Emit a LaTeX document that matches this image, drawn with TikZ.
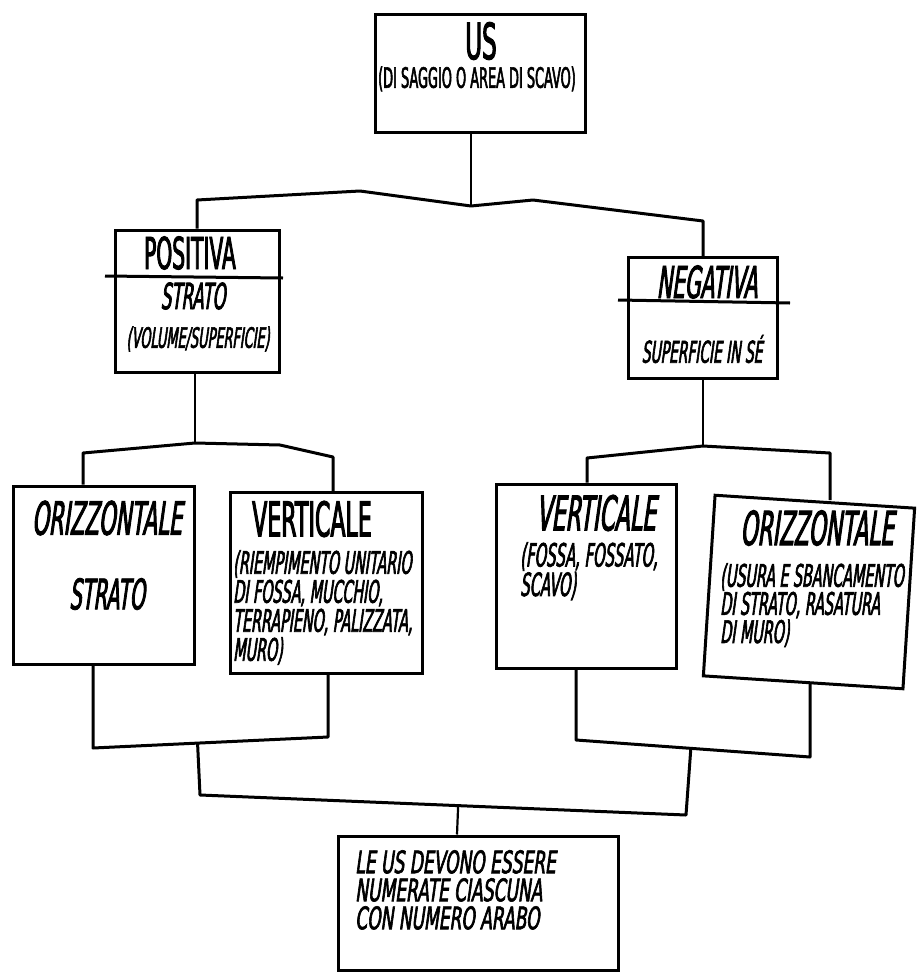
\documentclass[tikz,border=0pt]{standalone}
\usepackage{fontspec}
\newfontfamily\hand{DejaVu Sans}[FakeStretch=0.46,FakeBold=2]
\newfontfamily\handsl{DejaVu Sans}[FakeStretch=0.46,FakeSlant=0.14,FakeBold=2]
\newfontfamily\handwide{DejaVu Sans}[FakeStretch=0.55,FakeSlant=0.14,FakeBold=2]
\newcommand{\upsz}[2]{\hand\fontsize{#1}{#2}\selectfont}
\newcommand{\itsz}[2]{\handsl\fontsize{#1}{#2}\selectfont}
\usetikzlibrary{calc}

\begin{document}
\begin{tikzpicture}[
    x=1pt, y=-1pt,
    box/.style={draw, line width=3pt, inner sep=0pt},
    bar/.style={line width=3pt, line join=round},
    link/.style={line width=2.2pt},
    txt/.style={inner sep=0pt},
    lines/.style={inner sep=0pt, anchor=north west, align=left}
  ]
  \path[fill=white] (0,0) rectangle (913,972);

  % boxes
  \node[box, minimum width=210pt, minimum height=118pt] (us) at (480,73) {};
  \node[box, minimum width=164pt, minimum height=142pt] (pos) at (197,301) {};
  \node[box, minimum width=149pt, minimum height=121pt] (neg) at (703,318) {};
  \node[box, minimum width=181pt, minimum height=178pt] (lor) at (104,575) {};
  \node[box, minimum width=192pt, minimum height=181pt] (lver) at (326,583) {};
  \node[box, minimum width=180pt, minimum height=184pt] (rver) at (586,576) {};
  \node[box, minimum width=200pt, minimum height=181pt, rotate=-3.7] (ror) at (809,592) {};
  \node[box, minimum width=280pt, minimum height=134pt] (note) at (478,903) {};

  % dividers
  \draw[bar] (105,276) -- (283,278);
  \draw[bar] (618,300) -- (790,303);

  % texts
  \node[txt, font=\upsz{50}{50}] (ust) at (481,41) {US};
  \node[txt, font=\upsz{28}{28}] (usd) at (477,79) {(DI SAGGIO O AREA DI SCAVO)};
  \node[txt, font=\upsz{44}{44}] (post) at (190,253) {POSITIVA};
  \node[txt, font=\itsz{36}{36}] (poss) at (193,296) {STRATO};
  \node[txt, font=\itsz{28}{28}] (posd) at (198,339) {(VOLUME/SUPERFICIE)};
  \node[txt, font=\itsz{44}{44}] (negt) at (707,282) {NEGATIVA};
  \node[txt, font=\itsz{30}{30}] (negd) at (702,349) {SUPERFICIE IN SÉ};
  \node[txt, font=\itsz{46}{46}] (lort) at (107,518) {ORIZZONTALE};
  \node[txt, font=\itsz{42}{42}] (lors) at (107,594) {STRATO};
  \node[txt, font=\upsz{48}{48}] (lvert) at (312,519) {VERTICALE};
  \node[lines, font=\itsz{31}{29}] (lverd) at (233,550)
    {(RIEMPIMENTO UNITARIO\\DI FOSSA, MUCCHIO,\\TERRAPIENO, PALIZZATA,\\MURO)};
  \node[txt, font=\itsz{48}{48}] (rvert) at (596,513) {VERTICALE};
  \node[lines, font=\itsz{32}{25}] (rverd) at (520,542) {(FOSSA, FOSSATO,\\SCAVO)};
  \node[txt, font=\itsz{47}{47}] (rort) at (817,528) {ORIZZONTALE};
  \node[lines, font=\itsz{31}{25}] (rord) at (720,563)
    {(USURA E SBANCAMENTO\\DI STRATO, RASATURA\\DI MURO)};
  \node[lines, font=\handwide\fontsize{31}{28}\selectfont] (noted) at (355,850)
    {LE US DEVONO ESSERE\\NUMERATE CIASCUNA\\CON NUMERO ARABO};

  % US to positiva / negativa
  \coordinate (j0) at (471,206);
  \draw[link] (us.south -| j0) -- (j0);
  \draw[bar] (pos.north) -- (pos.north |- 0,200) -- (360,191) -- (j0)
    -- (533,200) -- (neg.north |- 0,221) -- (neg.north);

  % positiva side
  \coordinate (j1) at (195,443);
  \coordinate (l1) at (83,453);
  \coordinate (l2) at (333,457);
  \draw[link] (pos.south -| j1) -- (j1);
  \draw[bar] (l1 |- lor.north) -- (l1) -- (j1) -- (280,445) -- (l2) -- (l2 |- lver.north);

  % negativa side
  \coordinate (j2) at (703,446);
  \coordinate (r1) at (587,458);
  \coordinate (r2) at (830,453);
  \draw[link] (neg.south -| j2) -- (j2);
  \draw[bar] (r1 |- rver.north) -- (r1) -- (j2) -- (r2) -- (r2 |- ror.north);

  % lower brackets
  \coordinate (m1) at (93,748);
  \coordinate (m2) at (328,737);
  \draw[bar] (m1 |- lor.south) -- (m1) -- (m2) -- (m2 |- lver.south);
  \coordinate (n1) at (576,740);
  \coordinate (n2) at (810,757);
  \draw[bar] (n1 |- rver.south) -- (n1) -- (n2) -- (n2 |- ror.south);

  % down to the note
  \coordinate (p1) at (200,795);
  \coordinate (p2) at (686,815);
  \coordinate (q) at (457,0);
  \draw[bar] ($(m1)!(p1)!(m2)$) -- (p1) -- (p2) -- ($(n1)!(p2)!(n2)$);
  \draw[link] ($(p1)!(note.north -| q)!(p2)$) -- (note.north -| q);
\end{tikzpicture}
\end{document}
